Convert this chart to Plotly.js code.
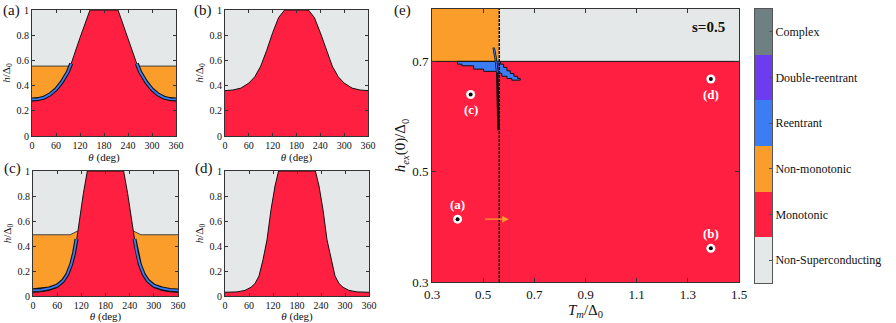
<!DOCTYPE html>
<html>
<head>
<meta charset="utf-8">
<script src="https://cdn.plot.ly/plotly-3.0.1.min.js"></script>
<style>html,body{margin:0;padding:0;background:#fff}#chart{width:896px;height:323px}</style>
</head>
<body>
<div id="chart"></div>
<script>
// phase colours (same order as the colour bar, bottom to top)
const phaseNames = ['Non-Superconducting', 'Monotonic', 'Non-monotonic', 'Reentrant', 'Double-reentrant', 'Complex'];
const phaseColors = ['#E4E8E8', '#FF1F40', '#FA9D2B', '#3A7DF5', '#6E3CF0', '#6E8082'];
const [cNon, cRed, cOrange, cBlue, cPurple] = phaseColors;

// (a) s=0.5, Tm/D0=0.40, hex=0.41
const aTheta = [0, 15, 30, 45, 60, 75, 90, 97, 105, 120, 135, 145, 215, 225, 240, 255, 263, 270, 285, 300, 315, 330, 345, 360];
const aRed   = [0.28, 0.283, 0.295, 0.32, 0.36, 0.42, 0.5, 0.56, 0.64, 0.78, 0.91, 1, 1, 0.91, 0.78, 0.64, 0.56, 0.5, 0.42, 0.36, 0.32, 0.295, 0.283, 0.28];
const aBlueThetaL = [0, 15, 30, 45, 60, 75, 90, 98];
const aBlueThetaR = [262, 270, 285, 300, 315, 330, 345, 360];
const aBlueL = [0.29, 0.293, 0.305, 0.33, 0.37, 0.43, 0.51, 0.575];
const aBlueR = [0.575, 0.51, 0.43, 0.37, 0.33, 0.305, 0.293, 0.29];
const aOrangeThetaL = [0, 97];
const aOrangeThetaR = [263, 360];
const aOrange = [0.555, 0.555];

// (b)
const bTheta = [0, 20, 40, 60, 75, 90, 105, 120, 135, 150, 210, 225, 240, 255, 270, 285, 300, 320, 340, 360];
const bRed   = [0.36, 0.365, 0.38, 0.42, 0.47, 0.555, 0.68, 0.82, 0.94, 1, 1, 0.94, 0.82, 0.68, 0.555, 0.47, 0.42, 0.38, 0.365, 0.36];

// (c)
const cTheta = [0, 20, 40, 60, 75, 85, 95, 102, 108, 115, 125, 135, 225, 235, 245, 252, 258, 265, 275, 285, 300, 320, 340, 360];
const cRedH  = [0.03, 0.034, 0.045, 0.068, 0.108, 0.158, 0.24, 0.33, 0.44, 0.6, 0.82, 1, 1, 0.82, 0.6, 0.44, 0.33, 0.24, 0.158, 0.108, 0.068, 0.045, 0.034, 0.03];
const cBlueThetaL = [0, 20, 40, 60, 75, 85, 95, 102, 108];
const cBlueThetaR = [252, 258, 265, 275, 285, 300, 320, 340, 360];
const cBlueL = [0.045, 0.049, 0.06, 0.083, 0.123, 0.173, 0.255, 0.345, 0.455];
const cBlueR = [0.455, 0.345, 0.255, 0.173, 0.123, 0.083, 0.06, 0.049, 0.045];
const cOrangeThetaL = [0, 92, 111];
const cOrangeThetaR = [249, 268, 360];
const cOrangeL = [0.49, 0.49, 0.52];
const cOrangeR = [0.52, 0.49, 0.49];

// (d)
const dTheta = [0, 30, 50, 65, 75, 85, 95, 105, 115, 125, 134, 226, 235, 245, 255, 265, 275, 285, 295, 310, 330, 360];
const dRed   = [0.03, 0.033, 0.045, 0.07, 0.1, 0.16, 0.29, 0.45, 0.69, 0.88, 1, 1, 0.88, 0.69, 0.45, 0.29, 0.16, 0.1, 0.07, 0.045, 0.033, 0.03];

// (e) phase diagram, s=0.5
const monoX = [0.3, 1.5, 1.5, 0.3];
const monoY = [0.3, 0.3, 0.7, 0.7];
const nonmonoX = [0.3, 0.563, 0.563, 0.3];
const nonmonoY = [0.7, 0.7, 0.8, 0.8];
const boundX = [0.3, 1.5];
const boundY = [0.7, 0.7];
const tcX = [0.563, 0.563];
const tcY = [0.3, 0.8];
const reX = [0.40, 0.56, 0.567, 0.567, 0.58, 0.58, 0.593, 0.593, 0.606, 0.606, 0.62, 0.62, 0.635, 0.635, 0.645, 0.645, 0.612, 0.612, 0.593, 0.593, 0.573, 0.573, 0.547, 0.502, 0.502, 0.463, 0.463, 0.417, 0.417, 0.40, 0.40];
const reY = [0.70, 0.70, 0.70, 0.695, 0.695, 0.689, 0.689, 0.683, 0.683, 0.678, 0.678, 0.673, 0.673, 0.669, 0.669, 0.666, 0.666, 0.669, 0.669, 0.673, 0.673, 0.678, 0.682, 0.682, 0.686, 0.686, 0.692, 0.692, 0.695, 0.695, 0.70];
const drX = [0.552, 0.562, 0.562, 0.556, 0.552];
const drY = [0.70, 0.70, 0.675, 0.672, 0.70];
const slX = [0.541, 0.549, 0.555, 0.558, 0.560];
const slY = [0.725, 0.705, 0.68, 0.63, 0.575];
const ptX = [0.40, 1.39, 0.451, 1.39];
const ptY = [0.414, 0.361, 0.64, 0.668];
const ptLbl = ['(a)', '(b)', '(c)', '(d)'];
const ptAbove = [true, true, false, false];
const arrowFrom = [0.502, 0.414];
const arrowTo = [0.600, 0.414];

const FONT = 'Liberation Serif, DejaVu Serif, serif';
const W = 896, H = 323;
const dx = (l, r) => [l / W, r / W];
const dy = (t, b) => [(H - b) / H, (H - t) / H];

function smallX(dom, anchor) {
	return {
		domain: dom, anchor: anchor, range: [0, 360], tickvals: [0, 60, 120, 180, 240, 300, 360],
		ticks: 'inside', ticklen: 3, tickcolor: '#333', showline: true, linecolor: '#333', linewidth: 1,
		mirror: 'ticks', showgrid: false, zeroline: false, tickfont: { size: 10 },
		title: { text: '<i>θ</i> (deg)', font: { size: 11 }, standoff: 2 }
	};
}
function smallY(dom, anchor) {
	return {
		domain: dom, anchor: anchor, range: [0, 1], tickvals: [0, 0.2, 0.4, 0.6, 0.8, 1],
		ticktext: ['0', '0.2', '0.4', '0.6', '0.8', '1'],
		ticks: 'inside', ticklen: 3, tickcolor: '#333', showline: true, linecolor: '#333', linewidth: 1,
		mirror: 'ticks', showgrid: false, zeroline: false, tickfont: { size: 10 },
		title: { text: '<i>h</i>/Δ<sub>0</sub>', font: { size: 11 }, standoff: 3 }
	};
}

const traces = [];
function fillUnder(xs, ys, color, ax, lineColor) {
	traces.push({ x: xs, y: ys, xaxis: ax[0], yaxis: ax[1], type: 'scatter', mode: 'lines',
		fill: 'tozeroy', fillcolor: color, line: { color: lineColor, width: 1 } });
}
function band(xs, ys, ax) {
	traces.push({ x: xs, y: ys, xaxis: ax[0], yaxis: ax[1], type: 'scatter', mode: 'lines',
		line: { color: '#111', width: 4 } });
	traces.push({ x: xs, y: ys, xaxis: ax[0], yaxis: ax[1], type: 'scatter', mode: 'lines',
		line: { color: cBlue, width: 1.8 } });
}

// (a)
const A = ['x', 'y'];
fillUnder(aOrangeThetaL, aOrange, cOrange, A, '#444');
fillUnder(aOrangeThetaR, aOrange, cOrange, A, '#444');
fillUnder(aTheta, aRed, cRed, A, '#111');
band(aBlueThetaL, aBlueL, A);
band(aBlueThetaR, aBlueR, A);
// (b)
fillUnder(bTheta, bRed, cRed, ['x2', 'y2'], '#111');
// (c)
const C = ['x3', 'y3'];
fillUnder(cOrangeThetaL, cOrangeL, cOrange, C, '#444');
fillUnder(cOrangeThetaR, cOrangeR, cOrange, C, '#444');
fillUnder(cTheta, cRedH, cRed, C, '#111');
band(cBlueThetaL, cBlueL, C);
band(cBlueThetaR, cBlueR, C);
// (d)
fillUnder(dTheta, dRed, cRed, ['x4', 'y4'], '#111');

// (e)
const E = { xaxis: 'x5', yaxis: 'y5', type: 'scatter' };
traces.push({ ...E, x: monoX, y: monoY, mode: 'lines', fill: 'toself', fillcolor: cRed, line: { width: 0 } });
traces.push({ ...E, x: nonmonoX, y: nonmonoY, mode: 'lines', fill: 'toself', fillcolor: cOrange, line: { width: 0 } });
traces.push({ ...E, x: boundX, y: boundY, mode: 'lines', line: { color: '#111', width: 1 } });
traces.push({ ...E, x: reX, y: reY, mode: 'lines', fill: 'toself', fillcolor: cBlue, line: { color: '#111', width: 1 } });
traces.push({ ...E, x: drX, y: drY, mode: 'lines', fill: 'toself', fillcolor: cPurple, line: { color: '#333', width: 0.5 } });
traces.push({ ...E, x: slX, y: slY, mode: 'lines', line: { color: '#111', width: 2.5 } });
traces.push({ ...E, x: slX.slice(0, 3), y: slY.slice(0, 3), mode: 'lines', line: { color: cBlue, width: 1 } });
traces.push({ ...E, x: tcX, y: tcY, mode: 'lines', line: { color: '#111', width: 1.5, dash: '3px,1px' } });
traces.push({ ...E, x: ptX, y: ptY, mode: 'markers', marker: { color: '#fff', size: 9 } });
traces.push({ ...E, x: ptX, y: ptY, mode: 'markers', marker: { color: '#000', size: 4 } });

// colour bar as its own little heatmap axis
const cbScale = [];
phaseColors.forEach((c, i) => {
	cbScale.push([Math.max(0, (i - 0.5) / 5), c]);
	cbScale.push([Math.min(1, (i + 0.5) / 5), c]);
});
traces.push({
	type: 'heatmap', xaxis: 'x6', yaxis: 'y6', x: [0], y: phaseNames.map((_, i) => i),
	z: phaseNames.map((_, i) => [i]), zmin: 0, zmax: 5, colorscale: cbScale, showscale: false, hoverinfo: 'skip'
});

const annotations = [
	{ text: '(a)', x: 0.001, y: 0.9675 },
	{ text: '(b)', x: 0.2143, y: 0.9675 },
	{ text: '(c)', x: 0.002, y: 0.4783 },
	{ text: '(d)', x: 0.2154, y: 0.4783 },
	{ text: '(e)', x: 0.4375, y: 0.9675 }
].map(a => ({ ...a, xref: 'paper', yref: 'paper', xanchor: 'left', yanchor: 'middle', showarrow: false, font: { size: 15 } }));

ptLbl.forEach((t, i) => annotations.push({
	text: '<b>' + t + '</b>', x: ptX[i], y: ptY[i], xref: 'x5', yref: 'y5', showarrow: false,
	yshift: ptAbove[i] ? 15 : -15, font: { size: 13, color: '#fff' }
}));
annotations.push({ text: '<b>s=0.5</b>', x: 1.38, y: 0.762, xref: 'x5', yref: 'y5', showarrow: false, font: { size: 15, color: '#111' } });
annotations.push({
	text: '', x: arrowTo[0], y: arrowTo[1], ax: arrowFrom[0], ay: arrowFrom[1], xref: 'x5', yref: 'y5',
	axref: 'x5', ayref: 'y5', showarrow: true, arrowhead: 2, arrowsize: 1, arrowwidth: 1.3, arrowcolor: '#F7A030'
});

const layout = {
	width: W, height: H, margin: { l: 0, r: 0, t: 0, b: 0 },
	paper_bgcolor: '#fff', plot_bgcolor: cNon, showlegend: false,
	font: { family: FONT, color: '#111' },
	xaxis: smallX(dx(32, 176), 'y'), yaxis: smallY(dy(10, 136), 'x'),
	xaxis2: smallX(dx(225, 368), 'y2'), yaxis2: smallY(dy(10, 136), 'x2'),
	xaxis3: smallX(dx(33, 178), 'y3'), yaxis3: smallY(dy(171, 296), 'x3'),
	xaxis4: smallX(dx(225, 369), 'y4'), yaxis4: smallY(dy(171, 296), 'x4'),
	xaxis5: {
		domain: dx(432, 739), anchor: 'y5', range: [0.3, 1.5], tickvals: [0.3, 0.5, 0.7, 0.9, 1.1, 1.3, 1.5],
		ticks: 'inside', ticklen: 4, tickcolor: '#333', showline: true, linecolor: '#333', mirror: 'ticks',
		showgrid: false, zeroline: false, tickfont: { size: 13 },
		title: { text: '<i>T<sub>m</sub></i>/Δ<sub>0</sub>', font: { size: 15 }, standoff: 0 }
	},
	yaxis5: {
		domain: dy(9, 282), anchor: 'x5', range: [0.3, 0.795], tickvals: [0.3, 0.5, 0.7],
		ticks: 'inside', ticklen: 4, tickcolor: '#333', showline: true, linecolor: '#333', mirror: 'ticks',
		showgrid: false, zeroline: false, tickfont: { size: 13 },
		title: { text: '<i>h<sub>ex</sub></i>(0)/Δ<sub>0</sub>', font: { size: 15 }, standoff: 2 }
	},
	xaxis6: { domain: dx(755, 772), anchor: 'y6', range: [-0.5, 0.5], showticklabels: false, ticks: '',
		showline: true, linecolor: '#555', mirror: true, showgrid: false, zeroline: false },
	yaxis6: { domain: dy(9, 283), anchor: 'x6', side: 'right', range: [-0.5, 5.5], tickvals: [0, 1, 2, 3, 4, 5],
		ticktext: phaseNames, ticks: 'inside', ticklen: 3, tickcolor: '#555', showline: true, linecolor: '#555',
		mirror: true, showgrid: false, zeroline: false, tickfont: { size: 12 } },
	annotations: annotations
};

Plotly.newPlot('chart', traces, layout, { staticPlot: true, displayModeBar: false });
</script>
</body>
</html>
